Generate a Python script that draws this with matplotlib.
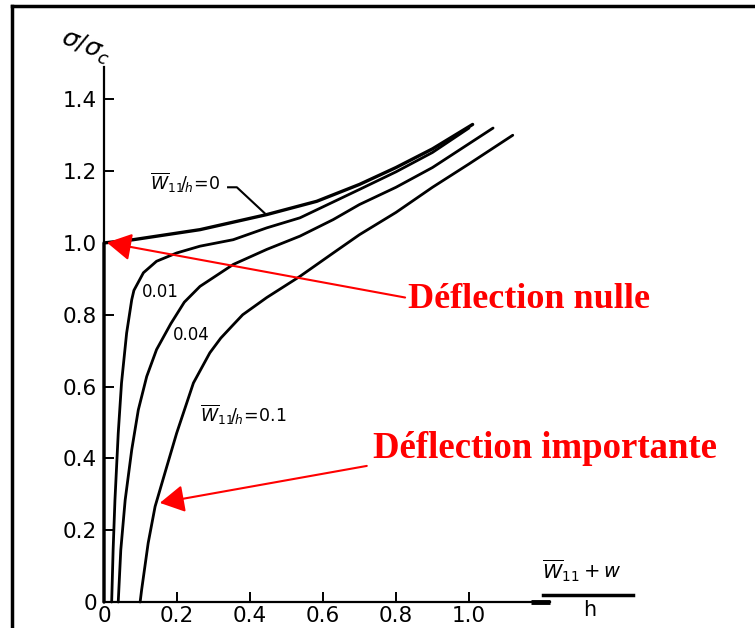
import matplotlib
matplotlib.use('Agg')
import matplotlib.pyplot as plt
from matplotlib.lines import Line2D

plt.rcParams['font.family'] = ['DejaVu Sans']
plt.rcParams['mathtext.fontset'] = 'dejavusans'

# ---- data ----
x_ticks = [0, 0.2, 0.4, 0.6, 0.8, 1.0]
x_tick_labels = ['0', '0.2', '0.4', '0.6', '0.8', '1.0']
y_ticks = [0, 0.2, 0.4, 0.6, 0.8, 1.0, 1.2, 1.4]
y_tick_labels = ['0', '0.2', '0.4', '0.6', '0.8', '1.0', '1.2', '1.4']

# w11/h = 0
w0_x = [0.0, 0.0, 0.08, 0.263, 0.446, 0.583, 0.70, 0.80, 0.90, 1.01]
w0_y = [0.0, 1.0, 1.009, 1.037, 1.079, 1.116, 1.163, 1.21, 1.262, 1.33]

# w11/h = 0.01
w001_x = [0.021, 0.025, 0.030, 0.039, 0.048, 0.062, 0.076, 0.082, 0.108, 0.144, 0.199,
          0.263, 0.354, 0.446, 0.537, 0.70, 0.80, 0.90, 1.0]
w001_y = [0.0, 0.145, 0.284, 0.47, 0.61, 0.749, 0.842, 0.868, 0.917, 0.949, 0.972,
          0.991, 1.009, 1.042, 1.070, 1.149, 1.198, 1.252, 1.32]

# w11/h = 0.04
w004_x = [0.039, 0.046, 0.058, 0.076, 0.094, 0.117, 0.144, 0.183, 0.22, 0.263, 0.354,
          0.446, 0.537, 0.628, 0.70, 0.80, 0.90, 1.066]
w004_y = [0.0, 0.145, 0.284, 0.424, 0.535, 0.628, 0.703, 0.775, 0.835, 0.879, 0.940,
          0.982, 1.019, 1.065, 1.107, 1.155, 1.21, 1.32]

# w11/h = 0.1
w01_x = [0.099, 0.103, 0.121, 0.14, 0.172, 0.199, 0.245, 0.29, 0.32, 0.354, 0.38, 0.446,
         0.537, 0.628, 0.70, 0.80, 0.90, 1.0, 1.12]
w01_y = [0.0, 0.033, 0.164, 0.266, 0.377, 0.47, 0.61, 0.694, 0.735, 0.772, 0.80, 0.848,
         0.907, 0.972, 1.023, 1.085, 1.155, 1.22, 1.30]

W, H = 755, 628
fig = plt.figure(figsize=(W / 100, H / 100), dpi=100)
ax = fig.add_axes([104 / W, 26 / H, 446 / W, 535 / H])
ax.set_xlim(0, 1.222)
ax.set_ylim(0, 1.49)

for s in ['top', 'right']:
    ax.spines[s].set_visible(False)
for s in ['left', 'bottom']:
    ax.spines[s].set_linewidth(1.6)
    ax.spines[s].set_color('black')

ax.set_xticks(x_ticks)
ax.set_xticklabels(x_tick_labels)
ax.set_yticks(y_ticks)
ax.set_yticklabels(y_tick_labels)
ax.tick_params(axis='both', direction='in', length=7, width=1.4, labelsize=15.5, colors='black')
ax.tick_params(axis='x', pad=3)
ax.tick_params(axis='y', pad=5)

lw = 2.0
kw = dict(color='black', solid_joinstyle='round', solid_capstyle='round', clip_on=False)
ax.plot(w0_x, w0_y, lw=lw + 0.4, **kw)
ax.plot(w001_x, w001_y, lw=lw, **kw)
ax.plot(w004_x, w004_y, lw=lw, **kw)
ax.plot(w01_x, w01_y, lw=lw, **kw)

# thick end of the x axis
ax.plot([1.17, 1.222], [0, 0], color='black', lw=3.5, clip_on=False, solid_capstyle='butt')

# curve labels
ax.text(0.126, 1.168, r'$\overline{W}_{11}\!/_{\!h}\!=\!0$', fontsize=12.5, va='center', ha='left')
ax.plot([0.34, 0.364, 0.44], [1.155, 1.155, 1.083], color='black', lw=1.5)
ax.text(0.153, 0.862, '0.01', fontsize=12, va='center', ha='center')
ax.text(0.239, 0.745, '0.04', fontsize=12, va='center', ha='center')
ax.text(0.263, 0.521, r'$\overline{W}_{11}\!/_{\!h}\!=\!0.1$', fontsize=12.5, va='center', ha='left')

# red annotations
red = '#ff0000'
astyle = '-|>,head_length=0.75,head_width=0.42'
ax.annotate('', xy=(0.008, 1.001), xytext=(0.825, 0.848),
            arrowprops=dict(arrowstyle=astyle, color=red, lw=1.5, mutation_scale=20,
                            shrinkA=0, shrinkB=0), annotation_clip=False)
ax.annotate('', xy=(0.153, 0.276), xytext=(0.72, 0.379),
            arrowprops=dict(arrowstyle=astyle, color=red, lw=1.5, mutation_scale=20,
                            shrinkA=0, shrinkB=0), annotation_clip=False)
ax.text(0.833, 0.82, 'Déflection nulle', color=red, fontsize=26, fontweight='bold',
        family='Liberation Serif', ha='left', va='baseline', clip_on=False)
ax.text(0.737, 0.40, 'Déflection importante', color=red, fontsize=26.5, fontweight='bold',
        family='Liberation Serif', ha='left', va='baseline', clip_on=False)

# axis labels
fig.text(86 / W, 1 - 47 / H, r'$\sigma/\sigma_c$', fontsize=18, rotation=-22,
         ha='center', va='center')
fig.text(582 / W, 1 - 571 / H, r'$\overline{W}_{11}+w$', fontsize=14, ha='center', va='center')
fig.add_artist(Line2D([543 / W, 633 / W], [1 - 595 / H, 1 - 595 / H], color='black', lw=2.5))
fig.text(590 / W, 1 - 610 / H, 'h', fontsize=15, ha='center', va='center')

# scan frame
fig.add_artist(Line2D([12 / W, 12 / W], [0, 1 - 6 / H], color='black', lw=2.5))
fig.add_artist(Line2D([12 / W, 1], [1 - 6 / H, 1 - 6 / H], color='black', lw=2.5))

fig.savefig('out.png', dpi=100, facecolor='white')
